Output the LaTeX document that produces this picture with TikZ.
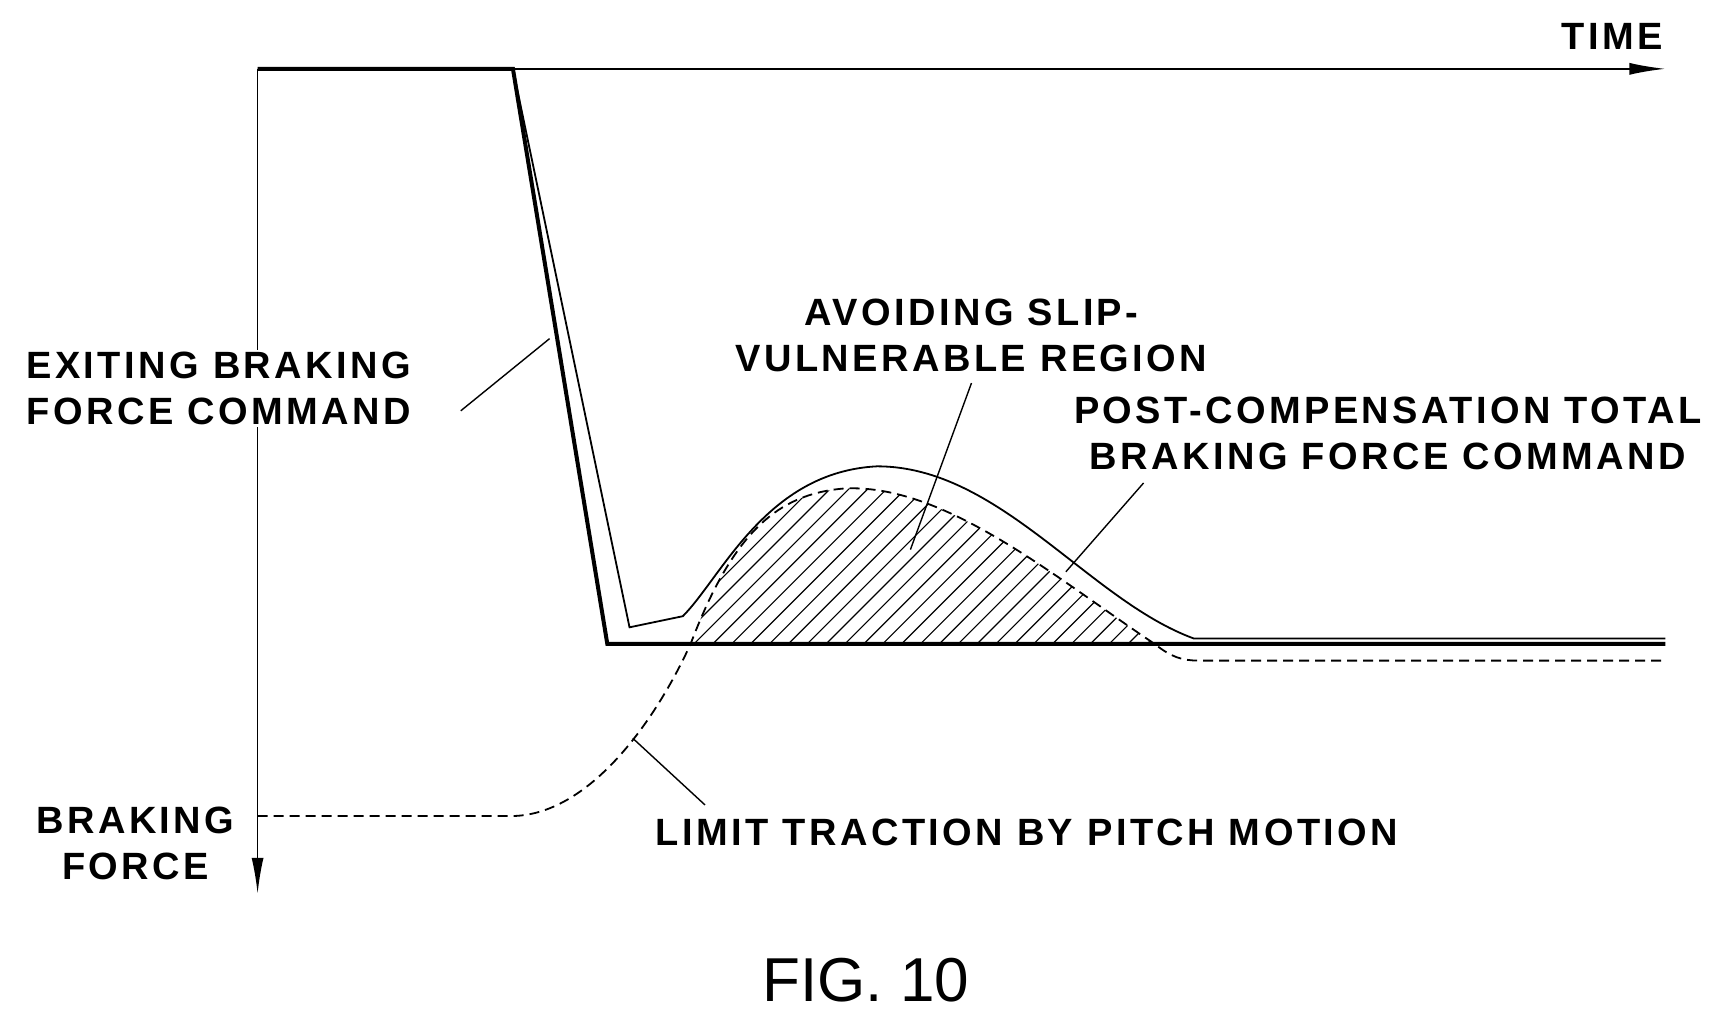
\documentclass[tikz,border=0pt]{standalone}
\usepackage{fontspec}
\setmainfont{Liberation Sans}
\newfontfamily\widesans[LetterSpace=9]{Liberation Sans}
\usetikzlibrary{arrows.meta}
\tikzset{
  lbl/.style={font=\widesans\fontsize{19}{23}\selectfont\bfseries, align=center, inner sep=1pt},
  leader/.style={line width=0.7pt},
  axis/.style={line width=0.9pt, -{Latex[length=18pt,width=6pt]}}
}
\begin{document}
\begin{tikzpicture}[x=0.555pt, y=-0.555pt]
    \useasboundingbox (0,0) rectangle (1560,918.7);

    % Axes
    \coordinate (O) at (232,62);
    \coordinate (T) at (1500,62);
    \coordinate (F) at (232,805);
    \draw[axis] (O) -- (T);
    \draw[axis] (O) -- (F);

    % Hatched slip-vulnerable region
    \begin{scope}
      \clip (622,580) .. controls (660,480) and (700,445) .. (760,440)
            .. controls (850,435) and (950,520) .. (1040,580) -- cycle;
      \foreach \i in {0,...,40}
        \draw[line width=0.6pt] (520+\i*17,600) -- ++(220,-220);
    \end{scope}

    % Limit traction by pitch motion (dashed)
    \draw[line width=0.9pt, dash pattern=on 5pt off 3pt]
      (232,735) -- (460,735) .. controls (530,735) and (590,650) .. (622,580)
      .. controls (660,480) and (700,445) .. (760,440)
      .. controls (850,435) and (950,520) .. (1040,580)
      .. controls (1055,592) and (1065,595) .. (1080,595) -- (1500,595);

    % Post-compensation command (thin)
    \draw[line width=0.9pt] (462,62) -- (567,565) -- (615,555)
      .. controls (650,520) and (690,425) .. (790,420)
      .. controls (900,420) and (980,540) .. (1075,575) -- (1500,575);

    % Existing command (thick)
    \draw[line width=2pt] (O) -- (462,62) -- (547,580) -- (1500,580);

    % Labels
    \node[lbl] (time) at (1452,33) {TIME};
    \node[lbl, fill=white] (exist) at (197,350) {EXITING BRAKING\\FORCE COMMAND};
    \node[lbl] (avoid) at (875,302) {AVOIDING SLIP-\\VULNERABLE REGION};
    \node[lbl] (post) at (1250,390) {POST-COMPENSATION TOTAL\\BRAKING FORCE COMMAND};
    \node[lbl] (limit) at (925,750) {LIMIT TRACTION BY PITCH MOTION};
    \node[lbl, fill=white] (brake) at (122,760) {BRAKING\\FORCE};
    \node[font=\fontsize{31}{35}\selectfont, inner sep=0pt] (fig) at (780,883) {FIG. 10};

    % Leaders
    \coordinate (e1) at (495,305);
    \coordinate (a1) at (820,495);
    \coordinate (p1) at (960,515);
    \coordinate (l1) at (570,665);
    \draw[leader] (415,370) -- (e1);
    \draw[leader] (875,345) -- (a1);
    \draw[leader] (1030,435) -- (p1);
    \draw[leader] (635,725) -- (l1);

\end{tikzpicture}
\end{document}
